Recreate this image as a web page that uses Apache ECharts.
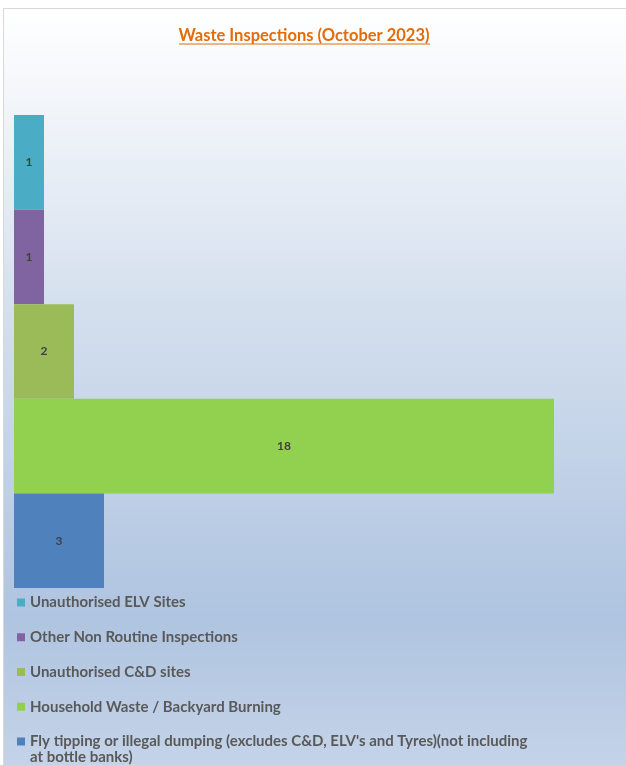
<!DOCTYPE html>
<html>
<head>
<meta charset="utf-8">
<script src="https://cdn.jsdelivr.net/npm/echarts@6/dist/echarts.min.js"></script>
<style>
  html, body { margin: 0; padding: 0; background: #ffffff; overflow: hidden; }
  #chart {
    position: absolute; left: 3px; top: 8px; width: 630px; height: 820px;
    border-top: 1px solid #d9d9d9; border-left: 1px solid #d9d9d9;
  }
</style>
</head>
<body>
<div id="chart"></div>
<script>
// categories, top to bottom
const categories = [
  "Unauthorised ELV Sites",
  "Other Non Routine Inspections",
  "Unauthorised C&D sites",
  "Household Waste / Backyard Burning",
  "Fly tipping or illegal dumping (excludes C&D, ELV's and Tyres)(not including at bottle banks)"
];
const values = [1, 1, 2, 18, 3];
const barColors = ["#4bacc6", "#8064a2", "#9bbb59", "#92d050", "#4f81bd"];

const chart = echarts.init(document.getElementById("chart"));

// one stacked series per category so each gets its own legend entry
const series = categories.map((name, i) => ({
  name: name,
  type: "bar",
  stack: "all",
  barCategoryGap: "0%",
  itemStyle: { color: barColors[i] },
  label: {
    show: true,
    position: "inside",
    color: "#404040",
    fontFamily: "Lato",
    fontWeight: "bold",
    fontSize: 12
  },
  data: values.map((v, j) => (j === i ? v : "-"))
}));

const lastName = categories[categories.length - 1];
const legendFont = { color: "#595959", fontFamily: "Lato", fontWeight: "bold", fontSize: 15 };

const option = {
  backgroundColor: {
    type: "linear", x: 0, y: 0, x2: 0, y2: 1,
    colorStops: [
      { offset: 0, color: "#ffffff" },
      { offset: 0.15, color: "#eef2f8" },
      { offset: 0.355, color: "#d5e0ee" },
      { offset: 0.54, color: "#c3d3e8" },
      { offset: 0.74, color: "#afc4e0" },
      { offset: 0.92, color: "#c4d3e8" },
      { offset: 1, color: "#c8d6ea" }
    ]
  },
  animation: false,
  title: {
    text: "Waste Inspections (October 2023)",
    left: 295,
    top: 13,
    textAlign: "center",
    textStyle: {
      color: "#e36c09",
      fontFamily: "Lato",
      fontWeight: "bold",
      fontSize: 16.5
    }
  },
  graphic: [
    {
      type: "line",
      shape: { x1: 175, y1: 35, x2: 426, y2: 35 },
      style: { stroke: "#e36c09", lineWidth: 1 }
    },
    {
      // wrapped second line of the last legend entry
      type: "text",
      style: {
        text: "at bottle banks)",
        x: 26, y: 748,
        verticalAlign: "middle",
        fill: legendFont.color,
        font: "bold 15px Lato"
      }
    }
  ],
  legend: {
    orient: "vertical",
    left: 8,
    top: 581,
    height: 220,
    itemWidth: 8,
    itemHeight: 8,
    itemGap: 19.75,
    icon: "rect",
    formatter: (name) =>
      name === lastName
        ? "Fly tipping or illegal dumping (excludes C&D, ELV's and Tyres)(not including"
        : name,
    textStyle: Object.assign({ lineHeight: 15 }, legendFont),
    data: categories
  },
  grid: { left: 10, top: 106, width: 600, height: 473 },
  xAxis: {
    type: "value",
    min: 0,
    max: 20,
    show: false
  },
  yAxis: {
    type: "category",
    data: categories,
    inverse: true,
    show: false
  },
  series: series
};

chart.setOption(option);
</script>
</body>
</html>
